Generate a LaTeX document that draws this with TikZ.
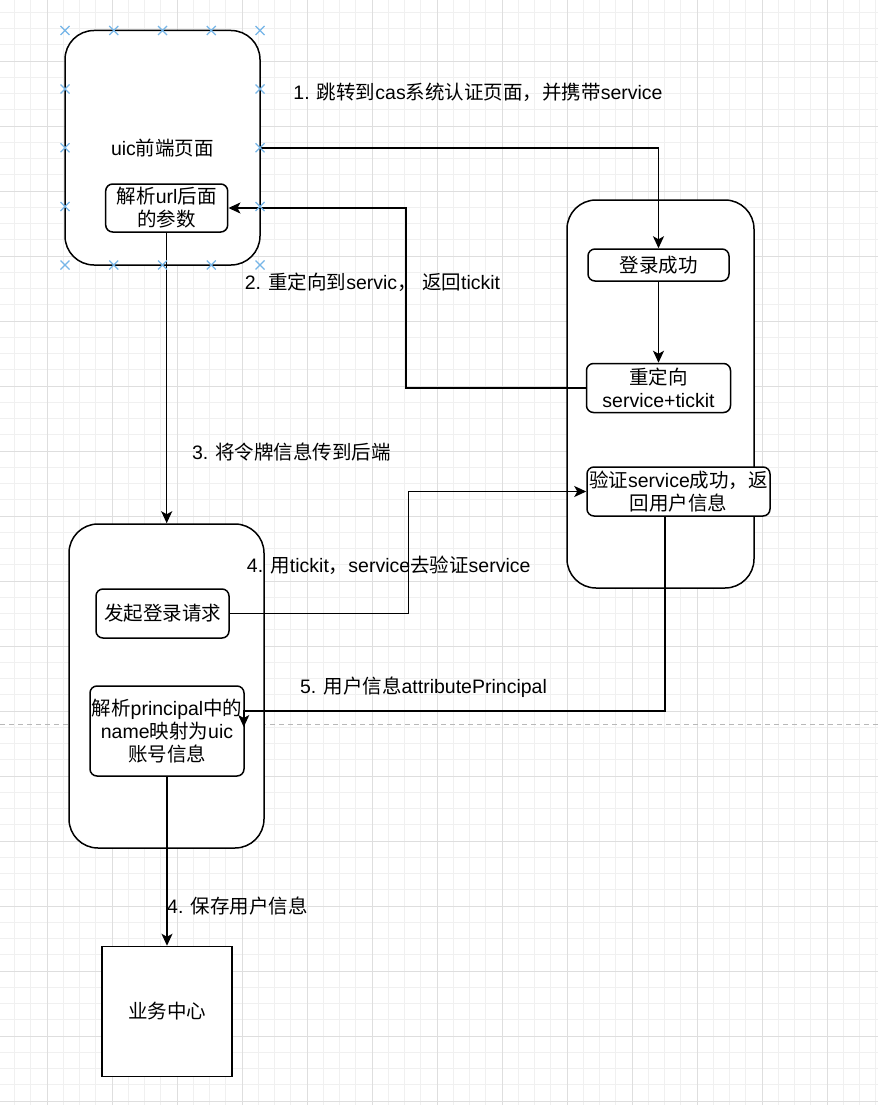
\documentclass[tikz,border=0pt]{standalone}
\usepackage{fontspec}
\setmainfont{Liberation Sans}
\newfontfamily\cjkfont{Noto Sans CJK SC}
%% 中文字符自动切换字体
\XeTeXinterchartokenstate=1
\newXeTeXintercharclass\cjkclass
\count255="3000 \loop\XeTeXcharclass\count255=\cjkclass\advance\count255 by 1 \ifnum\count255<"3040 \repeat
\count255="4E00 \loop\XeTeXcharclass\count255=\cjkclass\advance\count255 by 1 \ifnum\count255<"A000 \repeat
\count255="FF00 \loop\XeTeXcharclass\count255=\cjkclass\advance\count255 by 1 \ifnum\count255<"FFF0 \repeat
\XeTeXinterchartoks 0 \cjkclass={\cjkfont}
\XeTeXinterchartoks 4095 \cjkclass={\cjkfont}
\XeTeXinterchartoks \cjkclass 0={\rmfamily}
\XeTeXinterchartoks \cjkclass 4095={\rmfamily}
\usepackage{tikz}
\usetikzlibrary{arrows.meta,positioning}
\definecolor{handleblue}{RGB}{118,182,232}

\begin{document}
\begin{tikzpicture}[
    x=1pt, y=-1pt,
    font=\fontsize{19.5}{23}\selectfont,
    bigbox/.style={
        draw,
        fill=white,
        rounded corners=29pt,
        line width=1.5pt
    },
    stepbox/.style={
        draw,
        fill=white,
        rounded corners=7pt,
        align=center,
        inner sep=1pt,
        line width=1.5pt
    },
    plainbox/.style={
        draw,
        fill=white,
        minimum size=130pt,
        line width=1.5pt
    },
    lbl/.style={inner sep=0pt},
    arr/.style={-{Stealth[length=12pt,width=11pt,inset=3pt]}, line width=1.5pt},
    minorgrid/.style={draw=black!6, line width=0.8pt},
    majorgrid/.style={draw=black!13, line width=0.8pt},
    handle/.style={draw=handleblue, line width=1.3pt},
    pagebreak/.style={draw=black!28, line width=1pt, dash pattern=on 5pt off 4pt}
]
    \path[use as bounding box, fill=white] (0,0) rectangle (878,1105);
    %% 网格
    \foreach \i in {0,...,54} \draw[minorgrid] (-1.75+16.25*\i,0) -- (-1.75+16.25*\i,1105);
    \foreach \i in {0,...,68} \draw[minorgrid] (0,-4+16.25*\i) -- (878,-4+16.25*\i);
    \foreach \i in {0,...,12} \draw[majorgrid] (47+65*\i,0) -- (47+65*\i,1105);
    \foreach \i in {0,...,16} \draw[majorgrid] (0,61+65*\i) -- (878,61+65*\i);
    \draw[pagebreak] (0,724) -- (878,724);

    %% 前端
    \node[bigbox, minimum width=195pt, minimum height=234.5pt] (front) at (162.5,147.75) {uic前端页面};
    \node[stepbox, minimum width=122pt, minimum height=48pt] (parse) at (166.7,208) {解析url后面\\的参数};
    %% cas系统
    \node[bigbox, minimum width=187pt, minimum height=388pt] (cas) at (660.5,394) {};
    \node[stepbox, minimum width=141pt, minimum height=32pt] (login) at (658.5,265) {登录成功};
    \node[stepbox, minimum width=144pt, minimum height=49pt, below=81pt of login] (redirect) {重定向\\service+tickit};
    \node[stepbox, minimum width=183pt, minimum height=49pt] (verify) at (678.5,491.5) {验证service成功，返\\回用户信息};
    %% 后端
    \node[bigbox, minimum width=195pt, minimum height=324pt] (back) at (166.5,686) {};
    \node[stepbox, minimum width=133pt, minimum height=49pt] (request) at (162.5,613.5) {发起登录请求};
    \node[stepbox, minimum width=154pt, minimum height=90pt] (principal) at (167,731) {解析principal中的\\name映射为uic\\账号信息};
    %% 业务中心
    \node[plainbox, below=169pt of principal] (biz) {业务中心};

    %% 连线
    \draw[arr] (front.east) -| (login.north);
    \draw[arr] (login) -- (redirect);
    \draw[arr] (redirect.west) -- ++(-180,0) |- (parse.east);
    \draw[arr] (parse.south) -- (parse.south |- back.north);
    \draw[arr] (request.east) -- ++(178.5,0) |- (verify.west);
    \draw[arr] ([xshift=-13.5pt]verify.south) |- ([xshift=-1pt,yshift=20pt]principal.east) -- ([xshift=-1pt,yshift=4pt]principal.east);
    \draw[arr] (principal.south) -- (principal.south |- biz.north);

    %% 选中标记
    \foreach \hx in {65,113.75,162.5,211.25,260}
        \foreach \hy in {30.5,265}
            \draw[handle] (\hx-4.5,\hy-4.5) -- (\hx+4.5,\hy+4.5) (\hx-4.5,\hy+4.5) -- (\hx+4.5,\hy-4.5);
    \foreach \hx in {65,260}
        \foreach \hy in {89,147.75,206.5}
            \draw[handle] (\hx-4.5,\hy-4.5) -- (\hx+4.5,\hy+4.5) (\hx-4.5,\hy+4.5) -- (\hx+4.5,\hy-4.5);

    %% 说明文字
    \node[lbl] (stepone) at (478,92) {1. 跳转到cas系统认证页面，并携带service};
    \node[lbl] (steptwo) at (372.5,282) {2. 重定向到servic， 返回tickit};
    \node[lbl] (stepthree) at (291.5,452) {3. 将令牌信息传到后端};
    \node[lbl] (stepfour) at (388.7,565) {4. 用tickit，service去验证service};
    \node[lbl] (stepfive) at (423.5,687) {5. 用户信息attributePrincipal};
    \node[lbl, anchor=west] (stepsix) at (167,905.7) {4. 保存用户信息};
\end{tikzpicture}
\end{document}
